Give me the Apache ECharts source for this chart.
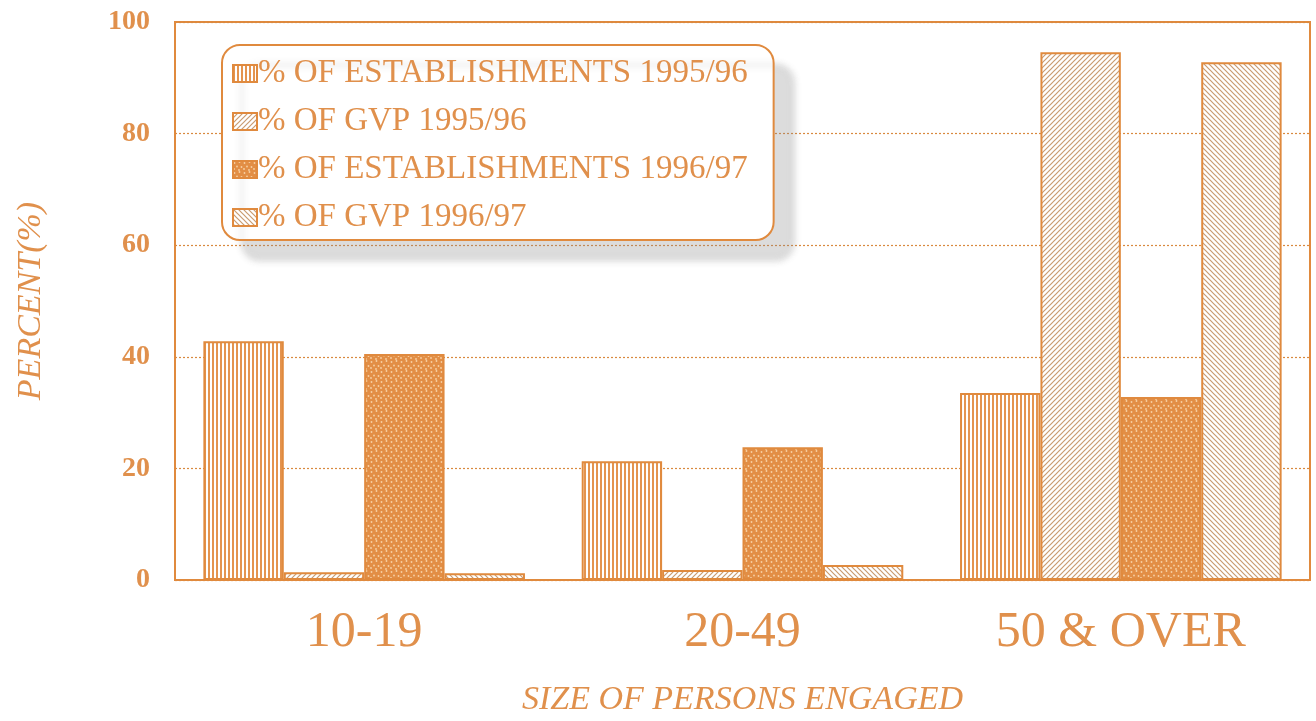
<!DOCTYPE html>
<html>
<head>
<meta charset="utf-8">
<script src="https://cdn.jsdelivr.net/npm/echarts@6/dist/echarts.min.js"></script>
<style>
  html, body { margin: 0; padding: 0; background: #fff; }
  #chart { width: 1316px; height: 721px; }
</style>
</head>
<body>
<div id="chart"></div>
<script>
var categories = ['10-19', '20-49', '50 & OVER'];
var seriesNames = ['% OF ESTABLISHMENTS 1995/96', '% OF GVP 1995/96', '% OF ESTABLISHMENTS 1996/97', '% OF GVP 1996/97'];
var estab9596 = [42.8, 21.3, 33.5];
var gvp9596 = [1.4, 1.8, 94.6];
var estab9697 = [40.5, 23.8, 32.8];
var gvp9697 = [1.2, 2.7, 92.8];
var yTicks = [0, 20, 40, 60, 80, 100];

var ORANGE = '#E08A3E';
var TEXT = '#E0904C';

// fill textures for the bars
function stripes() {
    var c = document.createElement('canvas');
    c.width = 4; c.height = 4;
    var g = c.getContext('2d');
    g.fillStyle = '#fff';
    g.fillRect(0, 0, 4, 4);
    g.fillStyle = '#E4944F';
    g.fillRect(0, 0, 2, 4);
    return c;
}
function diagonal(forward) {
    var s = 5;
    var c = document.createElement('canvas');
    c.width = s; c.height = s;
    var g = c.getContext('2d');
    g.fillStyle = '#fff';
    g.fillRect(0, 0, s, s);
    g.strokeStyle = '#C99B70';
    g.lineWidth = 1.2;
    g.beginPath();
    if (forward) {
        g.moveTo(-1, s + 1); g.lineTo(s + 1, -1);
        g.moveTo(-1, 1); g.lineTo(1, -1);
        g.moveTo(s - 1, s + 1); g.lineTo(s + 1, s - 1);
    } else {
        g.moveTo(-1, -1); g.lineTo(s + 1, s + 1);
        g.moveTo(s - 1, -1); g.lineTo(s + 1, 1);
        g.moveTo(-1, s - 1); g.lineTo(1, s + 1);
    }
    g.stroke();
    return c;
}
function dots() {
    var c = document.createElement('canvas');
    c.width = 10; c.height = 10;
    var g = c.getContext('2d');
    g.fillStyle = '#E28E45';
    g.fillRect(0, 0, 10, 10);
    g.fillStyle = '#F7D0A4';
    [[1.5, 2], [6.5, 1], [4, 5.5], [8.5, 6], [1, 8], [6, 9]].forEach(function (p) {
        g.beginPath();
        g.arc(p[0], p[1], 0.9, 0, Math.PI * 2);
        g.fill();
    });
    return c;
}

var fills = [
    {image: stripes(), repeat: 'repeat'},
    {image: diagonal(true), repeat: 'repeat'},
    {image: dots(), repeat: 'repeat'},
    {image: diagonal(false), repeat: 'repeat'}
];
var values = [estab9596, gvp9596, estab9697, gvp9697];

var myChart = echarts.init(document.getElementById('chart'));
myChart.setOption({
    backgroundColor: '#fff',
    animation: false,
    grid: {
        left: 175, right: 6, top: 22, bottom: 141,
        outerBoundsMode: 'none',
        containLabel: false,
        show: true, borderColor: ORANGE, borderWidth: 2
    },
    legend: {
        orient: 'vertical',
        left: 222, top: 45,
        padding: [12, 26, 6, 10],
        itemGap: 15,
        itemWidth: 24, itemHeight: 17,
        icon: 'rect',
        backgroundColor: '#fff',
        borderColor: ORANGE, borderWidth: 2, borderRadius: 18,
        shadowColor: 'rgba(140,140,140,0.3)', shadowBlur: 6,
        shadowOffsetX: 20, shadowOffsetY: 20,
        textStyle: {fontFamily: 'Liberation Serif', fontSize: 33, color: TEXT, padding: [0, 0, 0, -4]},
        data: seriesNames
    },
    xAxis: {
        type: 'category',
        data: categories,
        axisLine: {lineStyle: {color: ORANGE, width: 2}},
        axisTick: {show: false},
        axisLabel: {fontFamily: 'Liberation Serif', fontSize: 50, color: TEXT, margin: 28},
        name: 'SIZE OF PERSONS ENGAGED',
        nameLocation: 'middle',
        nameGap: 103,
        nameTextStyle: {fontFamily: 'Liberation Serif', fontStyle: 'italic', fontSize: 34, color: TEXT}
    },
    yAxis: {
        type: 'value',
        min: yTicks[0], max: yTicks[yTicks.length - 1], interval: 20,
        axisLine: {show: true, lineStyle: {color: ORANGE, width: 2}},
        axisTick: {show: false},
        axisLabel: {fontFamily: 'Liberation Serif', fontWeight: 'bold', fontSize: 28, color: TEXT, margin: 25},
        splitLine: {lineStyle: {color: '#D9893F', type: [2, 2], width: 1.2}},
        name: 'PERCENT(%)',
        nameLocation: 'middle',
        nameGap: 127,
        nameTextStyle: {fontFamily: 'Liberation Serif', fontStyle: 'italic', fontSize: 34, color: TEXT}
    },
    series: seriesNames.map(function (name, i) {
        return {
            name: name,
            type: 'bar',
            data: values[i],
            barGap: '0%',
            barCategoryGap: '15%',
            itemStyle: {color: fills[i], borderColor: ORANGE, borderWidth: 2}
        };
    })
});
</script>
</body>
</html>
